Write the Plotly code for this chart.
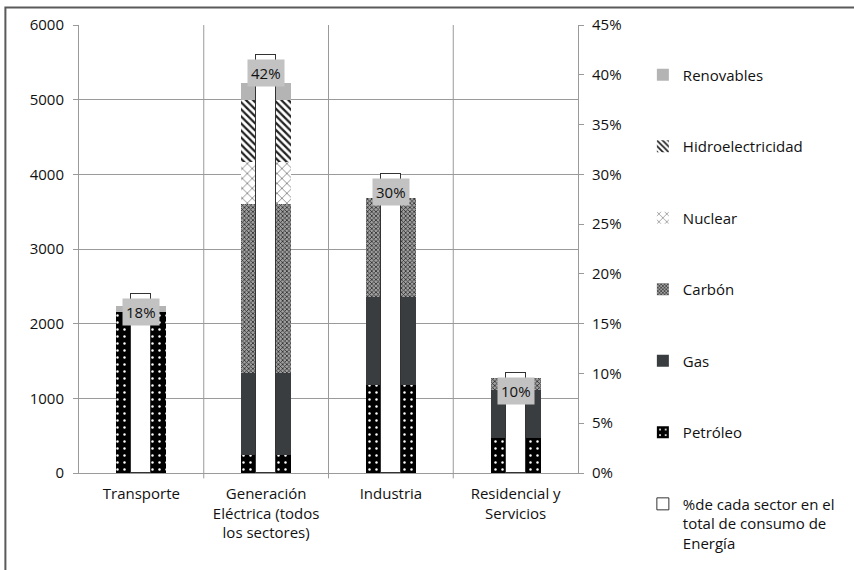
import plotly.graph_objects as go

# Energy consumption by sector and source, plus each sector's share of total consumption
sectores = ["Transporte", "Generación<br>Eléctrica (todos<br>los sectores)", "Industria", "Residencial y<br>Servicios"]
petroleo = [2150, 240, 1180, 465]
gas = [0, 1095, 1180, 645]
carbon = [0, 2265, 1320, 160]
nuclear = [0, 565, 0, 0]
hidro = [0, 830, 0, 0]
renovables = [80, 225, 0, 0]
pct_sector = [0.18, 0.42, 0.30, 0.10]
pct_labels = ["18%", "42%", "30%", "10%"]

FONT = "Open Sans"
TXT = "#111111"
FS = 15
xpos = list(range(len(sectores)))
W_STACK = 0.40
W_PCT = 0.16

fig = go.Figure()

series = [
    ("Petróleo", petroleo, dict(color="#000000", pattern=dict(shape=".", bgcolor="#000000", fgcolor="#ffffff", size=7, solidity=0.1, fillmode="replace")), 6),
    ("Gas", gas, dict(color="#393d40"), 5),
    ("Carbón", carbon, dict(color="#7f7f7f", pattern=dict(shape="x", bgcolor="#a0a0a0", fgcolor="#2a2a2a", size=3, solidity=0.45, fillmode="replace")), 4),
    ("Nuclear", nuclear, dict(color="#ffffff", pattern=dict(shape="x", bgcolor="#ffffff", fgcolor="#8c8c8c", size=7, solidity=0.25, fillmode="replace")), 3),
    ("Hidroelectricidad", hidro, dict(color="#ffffff", pattern=dict(shape="\\", bgcolor="#ffffff", fgcolor="#222222", size=5, solidity=0.45, fillmode="replace")), 2),
    ("Renovables", renovables, dict(color="#b4b4b4"), 1),
]

for name, vals, marker, rank in series:
    marker = dict(marker)
    marker["line"] = dict(width=0)
    fig.add_trace(go.Bar(
        x=xpos, y=vals, name=name, width=W_STACK, marker=marker,
        legendrank=rank, legendgroup=name, yaxis="y", hoverinfo="skip",
    ))

fig.add_trace(go.Bar(
    x=xpos, y=pct_sector, name="%de cada sector en el<br>total de consumo de<br>Energía",
    width=W_PCT, yaxis="y2", legendrank=7, legendgroup="pct",
    marker=dict(color="#ffffff", line=dict(color="#333333", width=1)),
    hoverinfo="skip",
))

# Percentage labels in grey boxes at the top of the share bars
for x, v, t in zip(xpos, pct_sector, pct_labels):
    fig.add_annotation(
        x=x, y=v, xref="x", yref="y2", text=t, showarrow=False,
        yanchor="top", yshift=-4, bgcolor="#c2c2c2", borderpad=3,
        font=dict(family=FONT, size=FS, color=TXT),
    )

grid = "#9a9a9a"
shapes = []
# Vertical separators between sectors
for xb in [0.5, 1.5, 2.5]:
    shapes.append(dict(type="line", xref="x", yref="paper", x0=xb, x1=xb, y0=-0.012, y1=1,
                       line=dict(color=grid, width=1), layer="below"))
# Outer frame of the chart
shapes.append(dict(type="rect", xref="paper", yref="paper", x0=-0.1475, x1=1.6, y0=-0.3, y1=1.039,
                   line=dict(color="#5a5a5a", width=2), layer="below"))

fig.update_layout(
    width=854, height=570,
    margin=dict(l=79, r=276, t=25, b=97, autoexpand=False),
    paper_bgcolor="#ffffff", plot_bgcolor="#ffffff",
    barmode="stack",
    font=dict(family=FONT, size=FS, color=TXT),
    xaxis=dict(range=[-0.5, 3.5], tickvals=xpos, ticktext=sectores, showgrid=False,
               zeroline=False, showline=True, linecolor=grid, linewidth=1, ticks="",
               ticklabelstandoff=7,
               tickfont=dict(family=FONT, size=FS, color=TXT), fixedrange=True),
    yaxis=dict(range=[0, 6000], dtick=1000, showgrid=True, gridcolor=grid, gridwidth=1,
               zeroline=False, showline=True, linecolor=grid, linewidth=1, ticks="outside",
               ticklen=5, tickcolor=grid, ticklabelstandoff=6,
               tickfont=dict(family=FONT, size=FS, color=TXT)),
    yaxis2=dict(range=[0, 0.45], dtick=0.05, tickformat=".0%", overlaying="y", side="right",
                showgrid=False, zeroline=False, showline=True, linecolor=grid, linewidth=1,
                ticks="outside", ticklen=5, tickcolor=grid, ticklabelstandoff=5,
                tickfont=dict(family=FONT, size=FS, color=TXT)),
    legend=dict(x=1.13, y=0.925, xanchor="left", yanchor="top", traceorder="grouped",
                tracegroupgap=49, valign="top", font=dict(family=FONT, size=FS, color=TXT),
                itemwidth=30, bgcolor="rgba(0,0,0,0)", maxheight=600),
    shapes=shapes,
    bargap=0,
)

fig.write_html("out.html")
